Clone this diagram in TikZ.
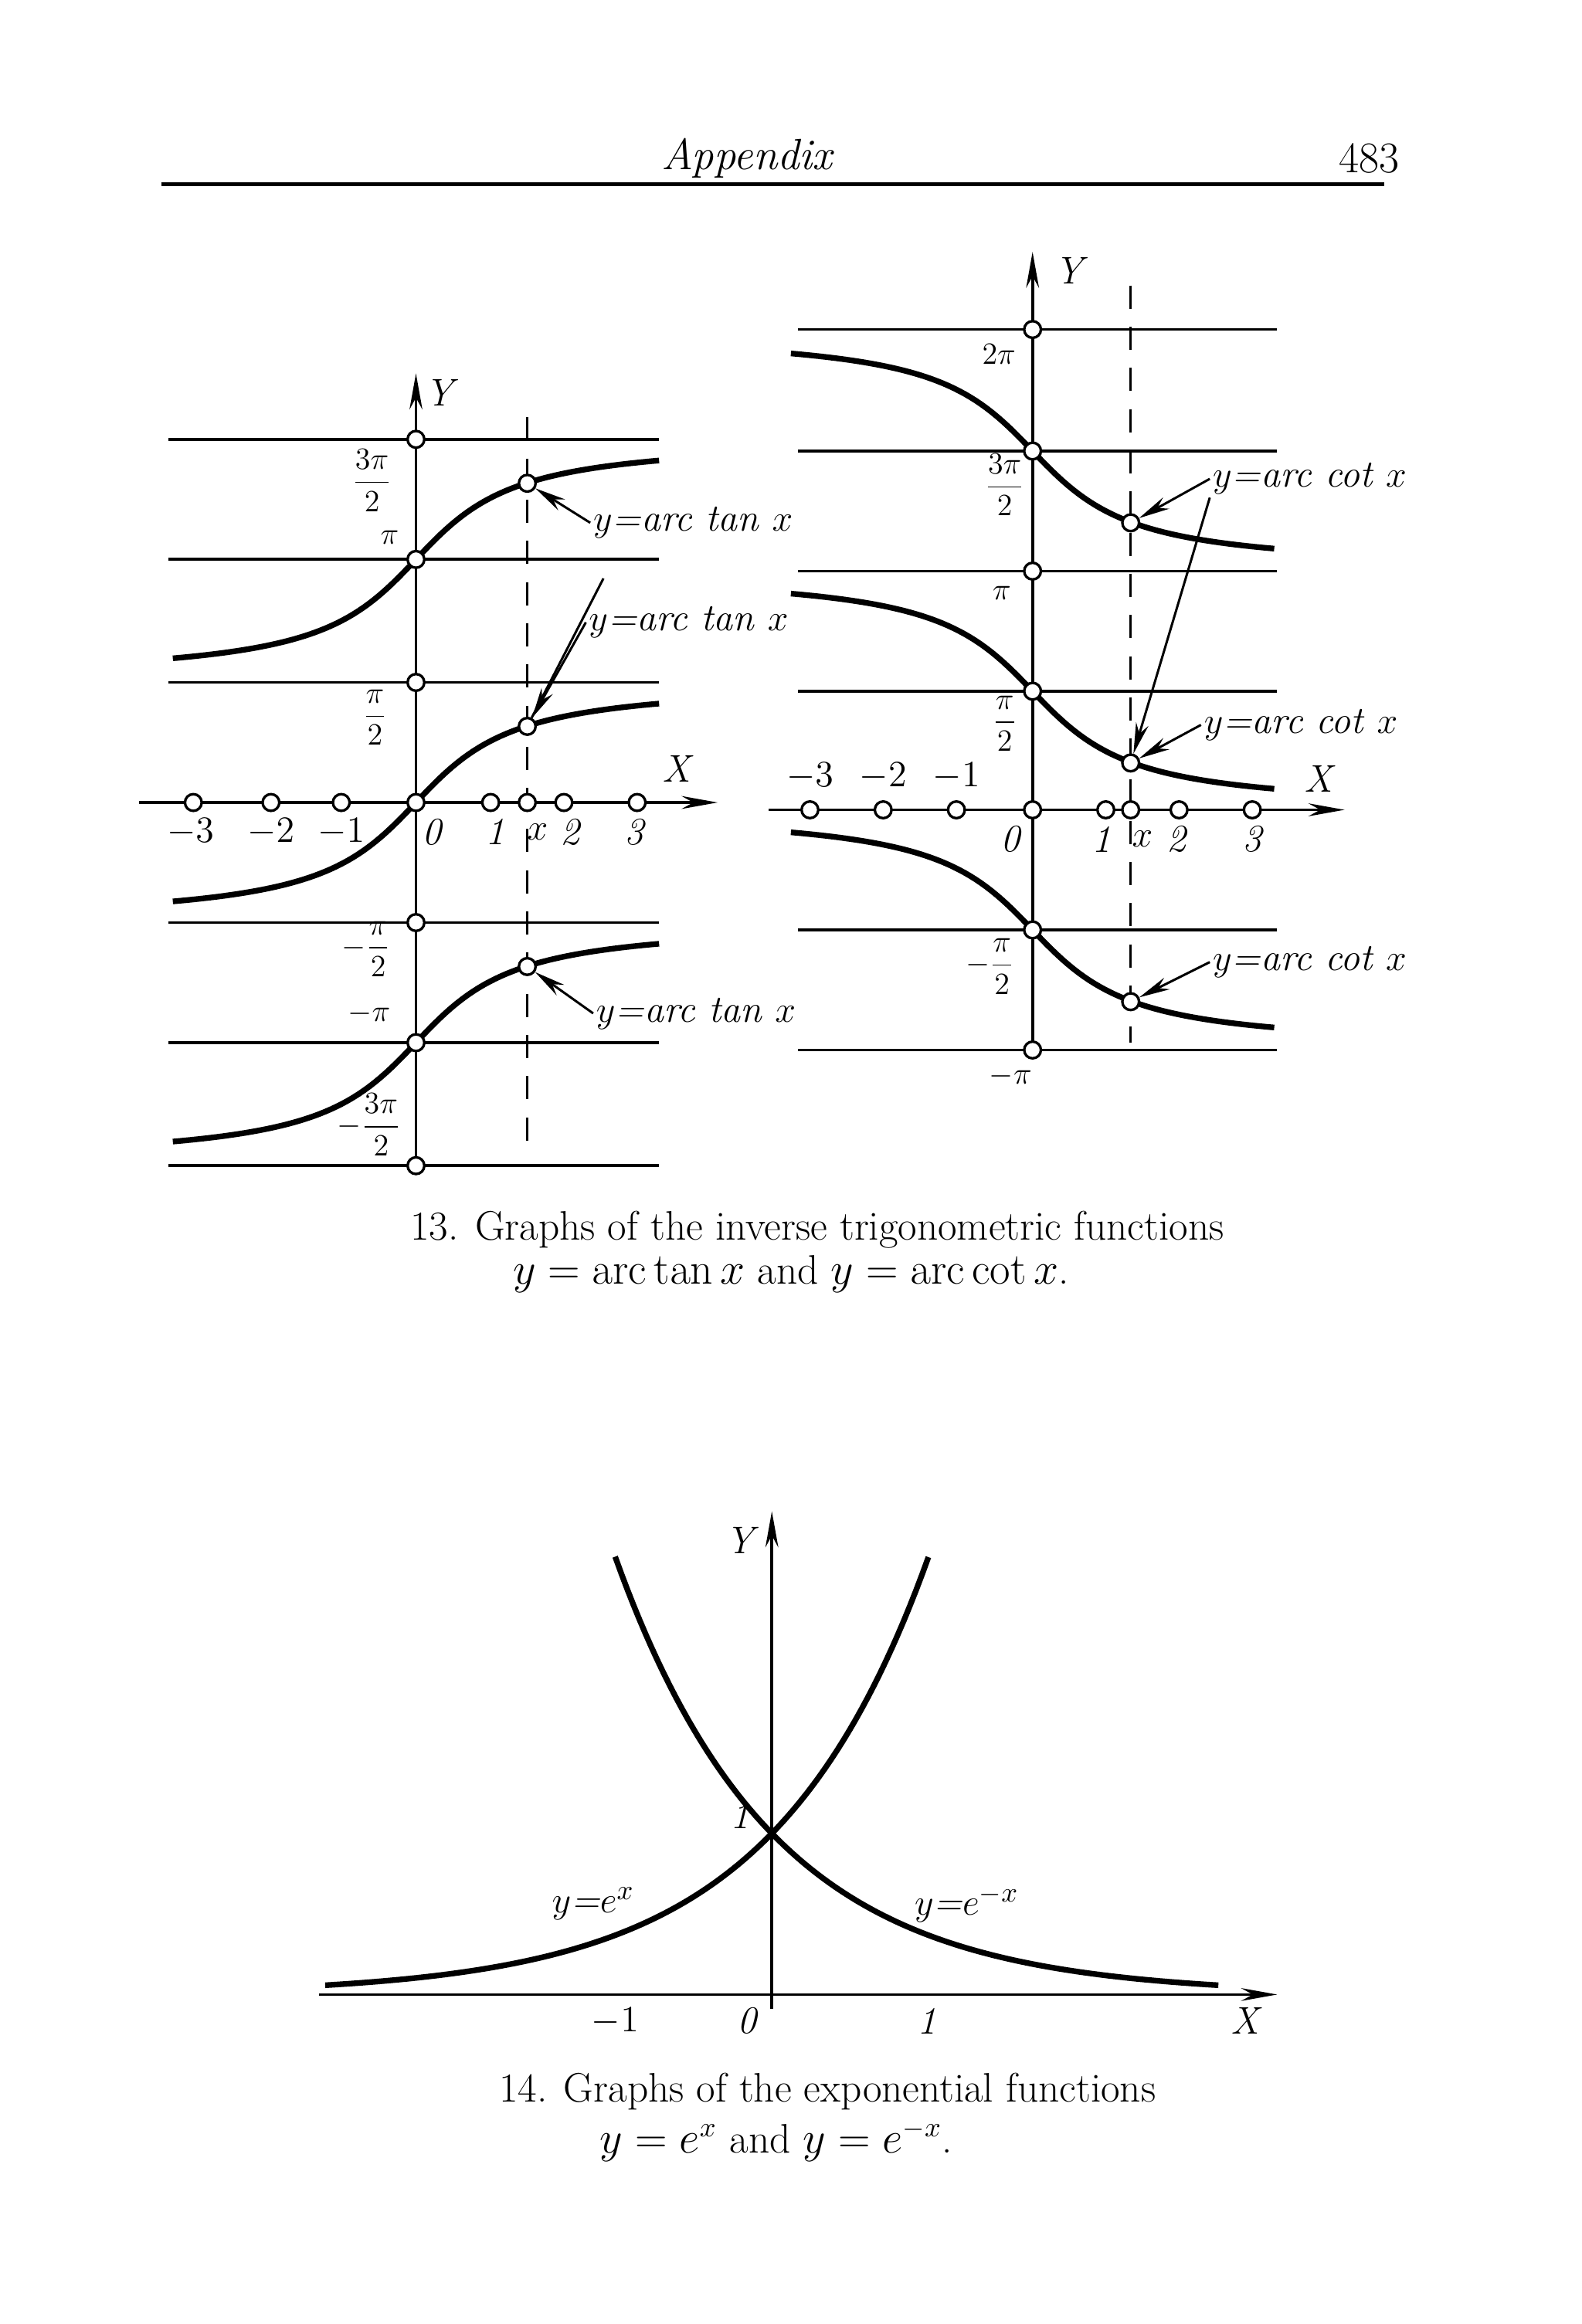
\documentclass[tikz,border=0pt]{standalone}
\usetikzlibrary{arrows.meta}
\begin{document}
\begin{tikzpicture}[x=0.2mm,y=-0.2mm,
  dot/.style={circle,draw,fill=white,line width=1pt,inner sep=0pt,minimum size=6.5pt},
  ax/.style={line width=1.1pt,-{Stealth[length=14pt,width=5pt]}},
  hl/.style={line width=1.1pt},
  cv/.style={line width=2.2pt},
  dsh/.style={line width=1pt,dash pattern=on 9pt off 7pt},
  lab/.style={font=\fontsize{15}{18}\selectfont\itshape,inner sep=1pt},
  fr/.style={font=\fontsize{13}{15}\selectfont,inner sep=0.5pt},
  captxt/.style={font=\fontsize{16}{19}\selectfont,inner sep=1pt},
  arr/.style={line width=0.9pt,-{Stealth[length=12pt,width=5pt]}}]
\useasboundingbox (0,0) rectangle (1080,1587);
% header
\node[lab,font=\fontsize{17}{20}\selectfont\itshape] (hd) at (510,108) {Appendix};
\node[captxt,font=\fontsize{17}{20}\selectfont] (pg) at (935,108) {483};
\draw[line width=1.5pt] (110,126) -- (945,126);
% ===== left graph
\foreach \yy in {300,382,466,630,712,796} \draw[hl] (115,\yy) -- (450,\yy);
\draw[ax] (95,548) -- (490,548);
\draw[ax] (284,800) -- (284,255);
\draw[dsh] (360,285) -- (360,785);
\foreach \c in {382,548,712}
  \draw[cv] plot[domain=118:450,samples=90] (\x,{\c-83*atan((\x-284)/50)/90});
\foreach \yy in {300,382,466,548,630,712,796} \node[dot] at (284,\yy) {};
\foreach \xx in {132,185,233,335,360,385,435} \node[dot] at (\xx,548) {};
\foreach \yy/\n in {330/la,496/lb,660/lc} \node[dot] (\n) at (360,\yy) {};
\node[lab] (ly) at (300,268) {Y};
\node[lab] (lx) at (462,525) {X};
\foreach \xx/\t in {130/$-3$,185/$-2$,233/$-1$,295/0,338/1,367/$x$,389/2,433/3}
  \node[lab] at (\xx,568) {\t};
\node[fr] at (254,328) {$\displaystyle\frac{3\pi}{2}$};
\node[fr] at (266,367) {$\pi$};
\node[fr] at (256,490) {$\displaystyle\frac{\pi}{2}$};
\node[fr] at (250,648) {$-\displaystyle\frac{\pi}{2}$};
\node[fr] at (252,692) {$-\pi$};
\node[fr] at (252,768) {$-\displaystyle\frac{3\pi}{2}$};
\node[lab,anchor=west] (ta) at (403,357) {$y$=arc tan $x$};
\node[lab,anchor=west] (tb) at (400,425) {$y$=arc tan $x$};
\node[lab,anchor=west] (tc) at (405,692) {$y$=arc tan $x$};
\draw[arr] (ta.west) -- (la);
\draw[arr] (tb.west) -- (lb);
\draw[line width=0.9pt] (412,395) -- (lb);
\draw[arr] (tc.west) -- (lc);
% ===== right graph
\foreach \yy in {225,308,390,472,635,717} \draw[hl] (545,\yy) -- (872,\yy);
\draw[ax] (525,553) -- (918,553);
\draw[ax] (705,722) -- (705,172);
\draw[dsh] (772,195) -- (772,712);
\foreach \c in {308,472,635}
  \draw[cv] plot[domain=540:870,samples=90] (\x,{\c+82*atan((\x-705)/50)/90});
\foreach \yy in {225,308,390,472,553,635,717} \node[dot] at (705,\yy) {};
\foreach \xx in {553,603,653,755,772,805,855} \node[dot] at (\xx,553) {};
\foreach \yy/\n in {357/ra,521/rb,684/rc} \node[dot] (\n) at (772,\yy) {};
\node[lab] (ry) at (730,185) {Y};
\node[lab] (rx) at (900,532) {X};
\foreach \xx/\t in {553/$-3$,603/$-2$,653/$-1$} \node[lab] at (\xx,530) {\t};
\foreach \xx/\t in {690/0,752/1,780/$x$,803/2,855/3} \node[lab] at (\xx,573) {\t};
\node[fr] at (682,242) {$2\pi$};
\node[fr] at (686,331) {$\displaystyle\frac{3\pi}{2}$};
\node[fr] at (684,405) {$\pi$};
\node[fr] at (686,494) {$\displaystyle\frac{\pi}{2}$};
\node[fr] at (676,660) {$-\displaystyle\frac{\pi}{2}$};
\node[fr] at (690,735) {$-\pi$};
\node[lab,anchor=west] (ca) at (826,327) {$y$=arc cot $x$};
\node[lab,anchor=west] (cb) at (820,495) {$y$=arc cot $x$};
\node[lab,anchor=west] (cc) at (826,657) {$y$=arc cot $x$};
\draw[arr] (ca.west) -- (ra);
\draw[arr] (ca.south west) -- (rb);
\draw[arr] (cb.west) -- (rb);
\draw[arr] (cc.west) -- (rc);
% caption 13
\node[captxt] (c13a) at (558,840) {13. Graphs of the inverse trigonometric functions};
\node[captxt] (c13b) at (540,870) {$y=\mathrm{arc\,tan}\,x$ and $y=\mathrm{arc\,cot}\,x$.};
% ===== exponential graph
\draw[ax] (218,1362) -- (872,1362);
\draw[ax] (527,1372) -- (527,1032);
\draw[cv] plot[domain=-2.85:1.0,samples=100] ({527+107*\x},{1362-110*exp(\x)});
\draw[cv] plot[domain=-1.0:2.85,samples=100] ({527+107*\x},{1362-110*exp(-\x)});
\node[lab] (ey) at (505,1052) {Y};
\node[lab] (ex) at (850,1380) {X};
\node[lab] (e1) at (505,1240) {1};
\node[lab] (f1) at (405,1300) {$y$=$e^{x}$};
\node[lab] (f2) at (660,1300) {$y$=$e^{-x}$};
\node[lab] at (420,1380) {$-1$};
\node[lab] at (510,1380) {0};
\node[lab] at (633,1380) {1};
\node[captxt] (c14a) at (565,1428) {14. Graphs of the exponential functions};
\node[captxt] (c14b) at (530,1462) {$y=e^{x}$ and $y=e^{-x}$.};
\end{tikzpicture}
\end{document}
